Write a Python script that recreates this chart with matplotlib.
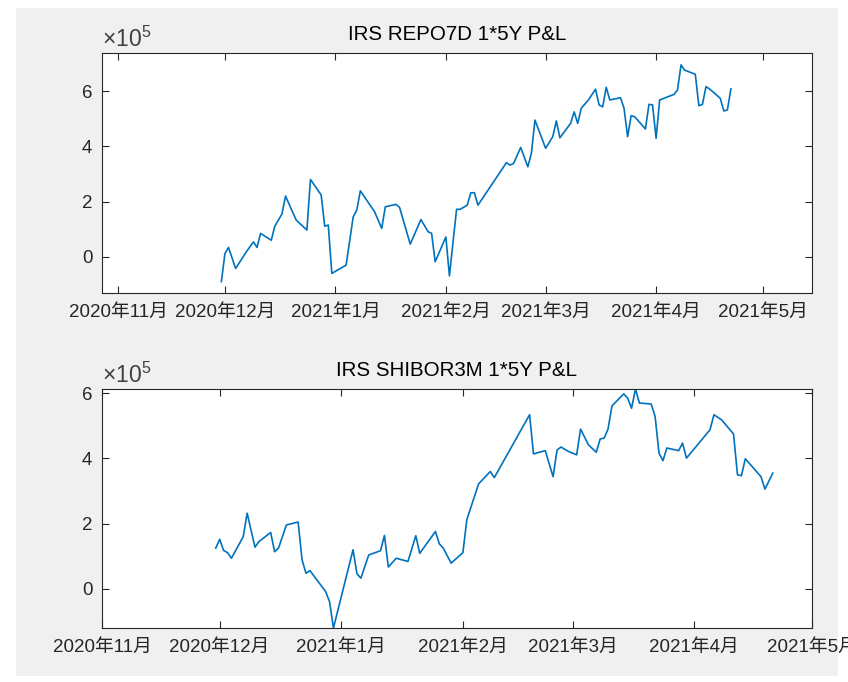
import matplotlib
matplotlib.use('Agg')
import matplotlib.pyplot as plt
import matplotlib.dates as mdates
from matplotlib.patches import Rectangle
from matplotlib.ticker import FixedLocator, FuncFormatter
import numpy as np
import pandas as pd

plt.rcParams['font.family'] = ['Liberation Sans', 'Noto Sans CJK SC', 'DejaVu Sans']
plt.rcParams['mathtext.fontset'] = 'custom'
plt.rcParams['mathtext.rm'] = 'Liberation Sans'

# IRS REPO7D 1*5Y P&L (units of 1e5)
repo_dates = ['2020-11-30', '2020-12-01', '2020-12-02', '2020-12-04', '2020-12-07', '2020-12-09',
              '2020-12-10', '2020-12-11', '2020-12-14', '2020-12-15', '2020-12-17', '2020-12-18',
              '2020-12-21', '2020-12-24', '2020-12-25', '2020-12-28', '2020-12-29', '2020-12-30',
              '2020-12-31', '2021-01-04', '2021-01-06', '2021-01-07', '2021-01-08', '2021-01-12',
              '2021-01-14', '2021-01-15', '2021-01-18', '2021-01-19', '2021-01-22', '2021-01-25',
              '2021-01-27', '2021-01-28', '2021-01-29', '2021-02-01', '2021-02-02', '2021-02-04',
              '2021-02-05', '2021-02-07', '2021-02-08', '2021-02-09', '2021-02-10', '2021-02-18',
              '2021-02-19', '2021-02-20', '2021-02-22', '2021-02-24', '2021-02-25', '2021-02-26',
              '2021-03-01', '2021-03-03', '2021-03-04', '2021-03-05', '2021-03-08', '2021-03-09',
              '2021-03-10', '2021-03-11', '2021-03-13', '2021-03-15', '2021-03-16', '2021-03-17',
              '2021-03-18', '2021-03-19', '2021-03-22', '2021-03-23', '2021-03-24', '2021-03-25',
              '2021-03-26', '2021-03-29', '2021-03-30', '2021-03-31', '2021-04-01', '2021-04-02',
              '2021-04-06', '2021-04-07', '2021-04-08', '2021-04-09', '2021-04-12', '2021-04-13',
              '2021-04-14', '2021-04-15', '2021-04-16', '2021-04-19', '2021-04-20', '2021-04-21',
              '2021-04-22']
repo_pnl = [-0.90, 0.12, 0.34, -0.42, 0.18, 0.54,
            0.34, 0.85, 0.60, 1.11, 1.55, 2.20,
            1.33, 0.97, 2.80, 2.24, 1.11, 1.15,
            -0.60, -0.30, 1.45, 1.69, 2.39, 1.63,
            1.03, 1.81, 1.90, 1.79, 0.46, 1.35,
            0.91, 0.85, -0.18, 0.72, -0.69, 1.72,
            1.72, 1.87, 2.32, 2.32, 1.87, 3.41,
            3.32, 3.38, 3.96, 3.26, 3.75, 4.95,
            3.93, 4.35, 4.92, 4.31, 4.83, 5.25,
            4.83, 5.38, 5.68, 6.07, 5.50, 5.43,
            6.14, 5.68, 5.76, 5.38, 4.35, 5.11,
            5.07, 4.63, 5.52, 5.50, 4.29, 5.68,
            5.88, 6.04, 6.95, 6.76, 6.61, 5.47,
            5.52, 6.16, 6.08, 5.74, 5.28, 5.32,
            6.08]

# IRS SHIBOR3M 1*5Y P&L (units of 1e5)
shibor_dates = ['2020-11-30', '2020-12-01', '2020-12-02', '2020-12-03', '2020-12-04', '2020-12-07',
                '2020-12-08', '2020-12-10', '2020-12-11', '2020-12-14', '2020-12-15', '2020-12-16',
                '2020-12-18', '2020-12-21', '2020-12-22', '2020-12-23', '2020-12-24', '2020-12-28',
                '2020-12-29', '2020-12-30', '2021-01-04', '2021-01-05', '2021-01-06', '2021-01-08',
                '2021-01-11', '2021-01-12', '2021-01-13', '2021-01-15', '2021-01-18', '2021-01-20',
                '2021-01-21', '2021-01-25', '2021-01-26', '2021-01-27', '2021-01-29', '2021-02-01',
                '2021-02-02', '2021-02-05', '2021-02-08', '2021-02-09', '2021-02-18', '2021-02-19',
                '2021-02-22', '2021-02-24', '2021-02-25', '2021-02-26', '2021-02-28', '2021-03-02',
                '2021-03-03', '2021-03-05', '2021-03-07', '2021-03-08', '2021-03-09', '2021-03-10',
                '2021-03-11', '2021-03-14', '2021-03-15', '2021-03-16', '2021-03-17', '2021-03-18',
                '2021-03-21', '2021-03-22', '2021-03-23', '2021-03-24', '2021-03-25', '2021-03-28',
                '2021-03-29', '2021-03-30', '2021-04-05', '2021-04-06', '2021-04-08', '2021-04-11',
                '2021-04-12', '2021-04-13', '2021-04-14', '2021-04-18', '2021-04-19', '2021-04-21']
shibor_pnl = [1.25, 1.52, 1.18, 1.11, 0.94, 1.60,
              2.32, 1.28, 1.45, 1.73, 1.14, 1.25,
              1.96, 2.05, 0.89, 0.48, 0.56, -0.08,
              -0.39, -1.20, 1.20, 0.46, 0.33, 1.04,
              1.17, 1.64, 0.67, 0.94, 0.84, 1.63,
              1.09, 1.76, 1.38, 1.25, 0.79, 1.11,
              2.12, 3.22, 3.60, 3.41, 5.34, 4.14,
              4.24, 3.44, 4.26, 4.35, 4.21, 4.11,
              4.90, 4.42, 4.19, 4.60, 4.62, 4.90,
              5.61, 5.98, 5.85, 5.54, 6.13, 5.70,
              5.67, 5.29, 4.16, 3.93, 4.32, 4.24,
              4.47, 4.01, 4.88, 5.34, 5.18, 4.75,
              3.50, 3.47, 3.99, 3.44, 3.06, 3.55]

titles = ['IRS REPO7D 1*5Y P&L', 'IRS SHIBOR3M 1*5Y P&L']
yticks = [0, 2e5, 4e5, 6e5]

line_color = '#0072BD'
axis_color = '#262626'

fig = plt.figure(figsize=(8.48, 6.82), dpi=100, facecolor='white')
fig.patches.append(Rectangle((16 / 848, 6 / 682), 822 / 848, 668 / 682,
                             transform=fig.transFigure, facecolor='#f0f0f0',
                             edgecolor='none', zorder=-10))

ax1 = fig.add_axes([102 / 848, 1 - 293 / 682, 710 / 848, 240 / 682])
ax2 = fig.add_axes([102 / 848, 1 - 628 / 682, 710 / 848, 239 / 682])

series = [(repo_dates, repo_pnl), (shibor_dates, shibor_pnl)]
xlims = [(pd.Timestamp('2020-10-27 12:00'), pd.Timestamp('2021-05-14 18:00')),
         (pd.Timestamp('2020-11-01'), pd.Timestamp('2021-05-01'))]
ylims = [(-1.31e5, 7.38e5), (-1.20e5, 6.13e5)]

month_fmt = FuncFormatter(lambda v, p: '{}年{}月'.format(mdates.num2date(v).year,
                                                       mdates.num2date(v).month))

for ax, (d, v), title, xl, yl in zip([ax1, ax2], series, titles, xlims, ylims):
    ax.plot(pd.to_datetime(d), np.array(v) * 1e5, color=line_color, lw=1.2)
    ax.set_xlim(xl)
    ax.set_ylim(yl)
    ax.xaxis.set_major_locator(mdates.MonthLocator())
    ax.xaxis.set_major_formatter(month_fmt)
    ax.yaxis.set_major_locator(FixedLocator(yticks))
    ax.yaxis.set_major_formatter(FuncFormatter(lambda val, p: '{:g}'.format(val / 1e5)))
    ax.tick_params(direction='in', length=5, width=0.8, colors=axis_color,
                   labelsize=13.5, top=True, right=True)
    ax.tick_params(axis='x', pad=8)
    ax.tick_params(axis='y', pad=7)
    for s in ax.spines.values():
        s.set_color(axis_color)
        s.set_linewidth(0.8)
    ax.set_facecolor('white')
    ax.set_title(title, fontsize=14.8, color='black', pad=9)
    ax.text(0.0, 1.005, r'$\times10^{5}$', transform=ax.transAxes, fontsize=16.5,
            color='#404040', ha='left', va='bottom')

fig.savefig('out.png', dpi=100)
